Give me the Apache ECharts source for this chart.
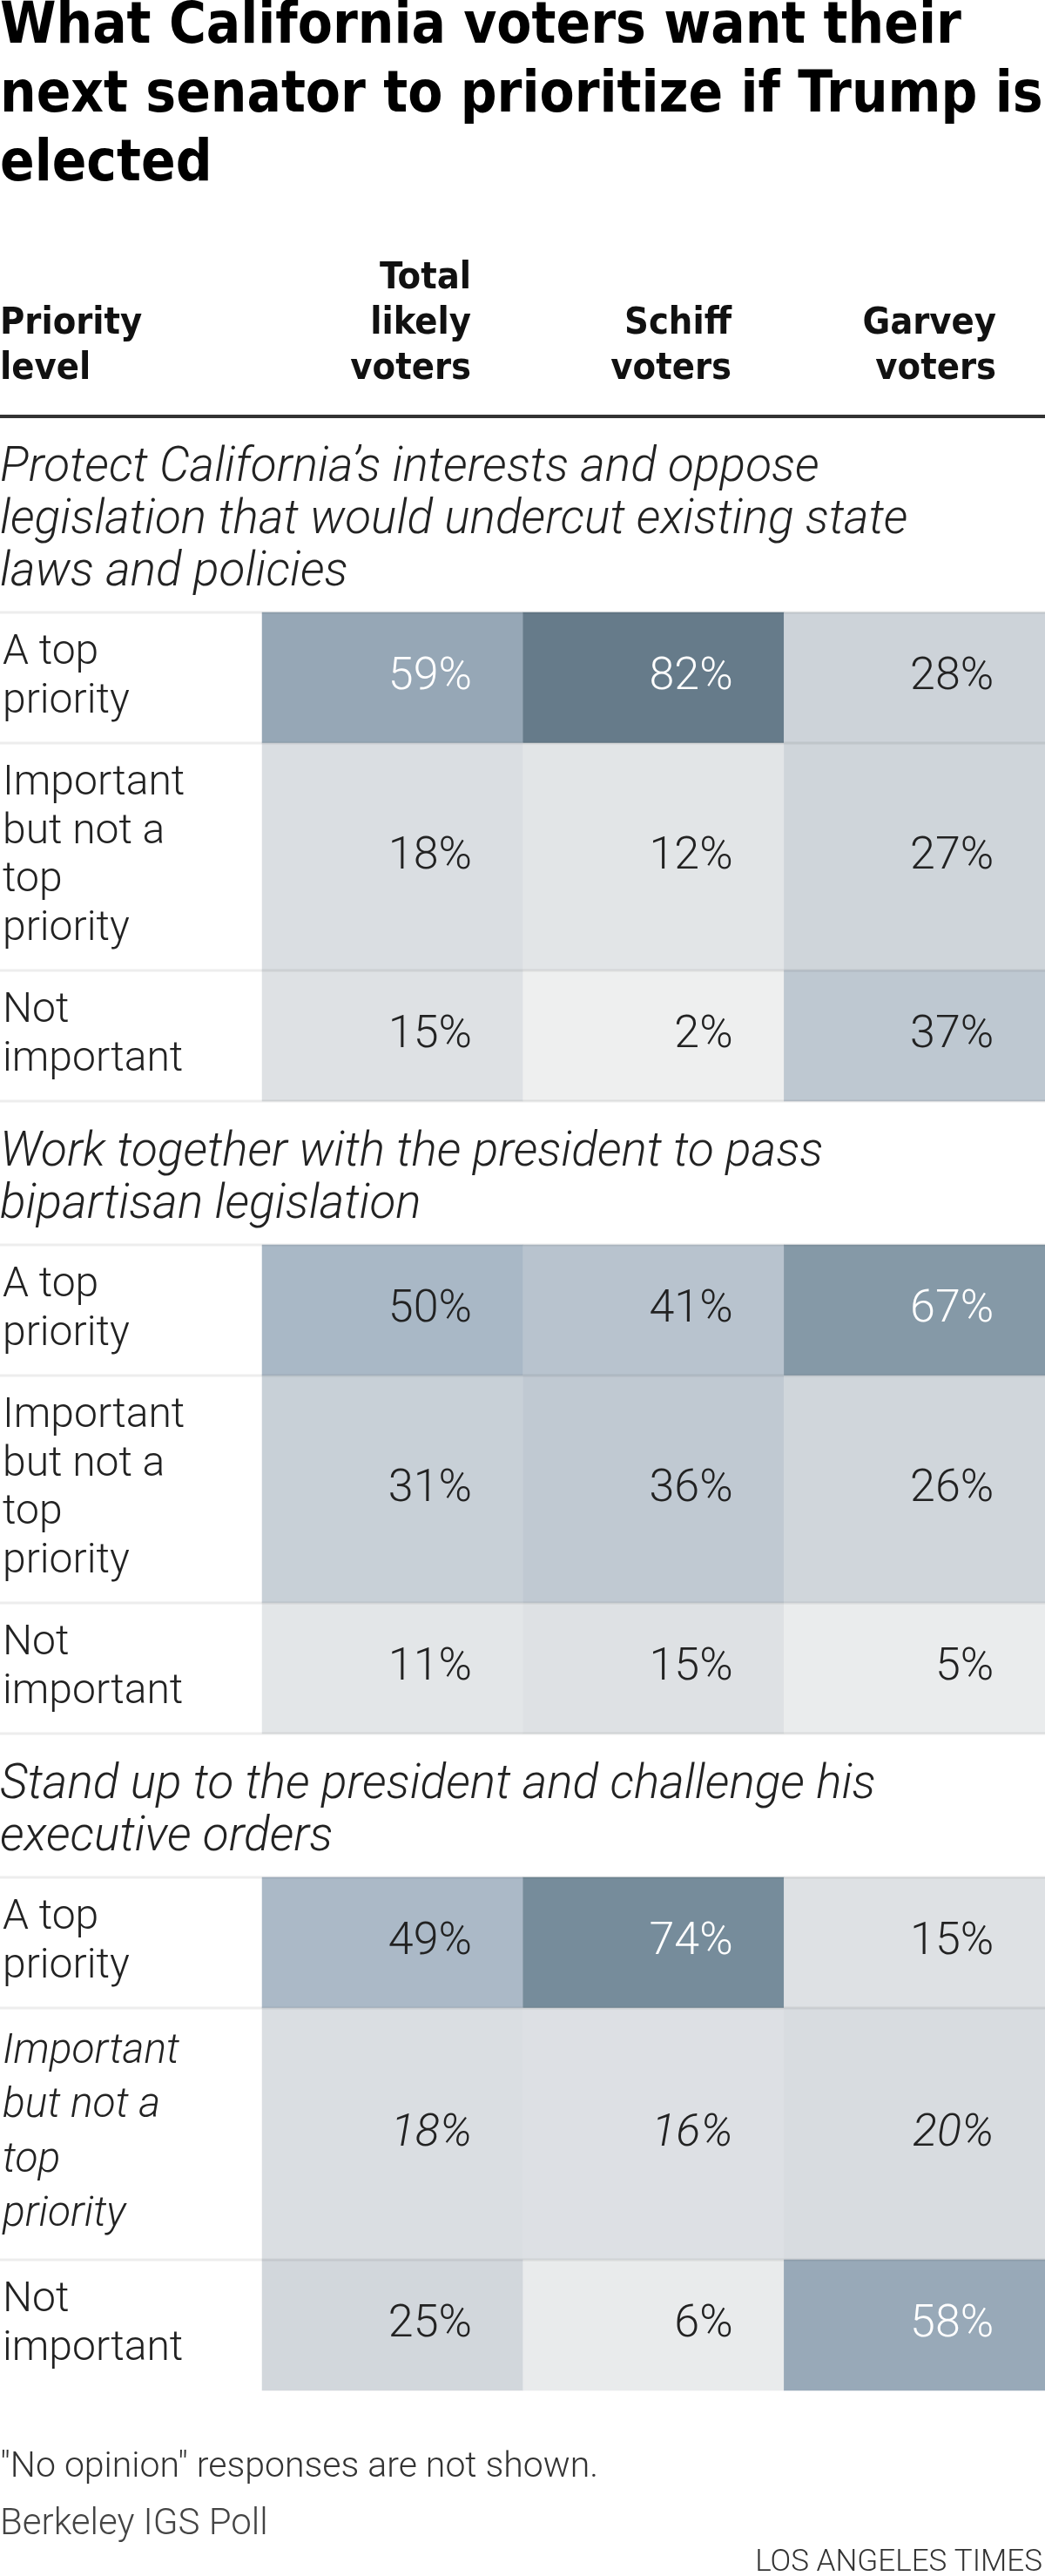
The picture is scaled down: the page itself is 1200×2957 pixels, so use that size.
<!DOCTYPE html>
<html>
<head>
<meta charset="utf-8">
<script src="https://cdn.jsdelivr.net/npm/echarts@6/dist/echarts.min.js"></script>
<style>
  html, body { margin: 0; padding: 0; background: #fff; }
  #main { width: 1200px; height: 2957px; }
</style>
</head>
<body>
<div id="main"></div>
<script>
// data
var columns = ['Total likely voters', 'Schiff voters', 'Garvey voters'];
var levelLabels = ['A top\npriority', 'Important\nbut not a\ntop\npriority', 'Not\nimportant'];
var questions = [
    'Protect California\u2019s interests and oppose\nlegislation that would undercut existing state\nlaws and policies',
    'Work together with the president to pass\nbipartisan legislation',
    'Stand up to the president and challenge his\nexecutive orders'
];
var protectCalifornia = [[59, 82, 28], [18, 12, 27], [15, 2, 37]];
var workTogether = [[50, 41, 67], [31, 36, 26], [11, 15, 5]];
var standUp = [[49, 74, 15], [18, 16, 20], [25, 6, 58]];
var sectionValues = [protectCalifornia, workTogether, standUp];

var BODY = 'Roboto, "Liberation Sans", sans-serif';
var COND = '"Liberation Sans Narrow", "DejaVu Sans Condensed", Roboto, sans-serif';

var chart = echarts.init(document.getElementById('main'));

function sepLine(y) {
    return {
        type: 'rect', z: 100,
        shape: { x: 0, y: y - 1.5, width: 1200, height: 3 },
        style: { fill: 'rgba(0,0,0,0.07)' }
    };
}

var grids = [], xAxes = [], yAxes = [], series = [];
var graphics = [
    { type: 'text', style: { text: 'What California voters want their\nnext senator to prioritize if Trump is\nelected',
        x: 0, y: -7, verticalAlign: 'top', lineHeight: 79, font: 'bold 65px ' + COND, fill: '#000' } },
    { type: 'text', style: { text: 'Priority\nlevel', x: 0, y: 450, align: 'left', verticalAlign: 'bottom',
        lineHeight: 52, font: 'bold 43px ' + COND, fill: '#111' } },
    { type: 'text', style: { text: 'Total\nlikely\nvoters', x: 541, y: 450, align: 'right', verticalAlign: 'bottom',
        lineHeight: 52, font: 'bold 43px ' + COND, fill: '#111' } },
    { type: 'text', style: { text: 'Schiff\nvoters', x: 840, y: 450, align: 'right', verticalAlign: 'bottom',
        lineHeight: 52, font: 'bold 43px ' + COND, fill: '#111' } },
    { type: 'text', style: { text: 'Garvey\nvoters', x: 1144, y: 450, align: 'right', verticalAlign: 'bottom',
        lineHeight: 52, font: 'bold 43px ' + COND, fill: '#111' } },
    { type: 'rect', shape: { x: 0, y: 476, width: 1200, height: 4 }, style: { fill: '#333' } }
];

var y = 480;
sectionValues.forEach(function (rows, s) {
    y += s === 0 ? 22 : 24;
    graphics.push({ type: 'text', style: { text: questions[s], x: 0, y: y + 6, verticalAlign: 'top',
        lineHeight: 60, font: 'italic 300 55px ' + BODY, fill: '#222' } });
    y += questions[s].split('\n').length * 60 + 21;
    graphics.push(sepLine(y));

    rows.forEach(function (row, r) {
        var italic = (s === 2 && r === 1);
        var lh = italic ? 62.5 : 55.5;
        var h = levelLabels[r].split('\n').length * lh + 39;
        var gi = grids.length;
        grids.push({ left: 298, right: 0, top: y, height: h });
        xAxes.push({ type: 'category', gridIndex: gi, data: columns, show: false });
        yAxes.push({
            type: 'category', gridIndex: gi, data: [levelLabels[r]],
            axisLine: { show: false }, axisTick: { show: false }, splitLine: { show: false },
            axisLabel: {
                align: 'left', margin: 298, fontSize: 48, fontWeight: 300, fontFamily: BODY,
                fontStyle: italic ? 'italic' : 'normal', lineHeight: lh, color: '#222'
            }
        });
        var txt = { fontSize: 52, fontWeight: 300, fontFamily: BODY };
        series.push({
            type: 'heatmap', xAxisIndex: gi, yAxisIndex: gi,
            data: row.map(function (v, c) { return [c, 0, v]; }),
            itemStyle: { borderWidth: 0 },
            emphasis: { disabled: true },
            label: {
                show: true, position: 'insideRight', distance: 59,
                formatter: function (p) {
                    var v = p.data[2];
                    var key = (v >= 55 ? 'w' : 'd') + (italic ? 'i' : '');
                    return '{' + key + '|' + v + '%}';
                },
                rich: {
                    w: Object.assign({ color: '#fff' }, txt),
                    d: Object.assign({ color: '#222' }, txt),
                    wi: Object.assign({ color: '#fff', fontStyle: 'italic' }, txt),
                    di: Object.assign({ color: '#222', fontStyle: 'italic' }, txt)
                }
            }
        });
        y += h;
        if (!(s === 2 && r === 2)) graphics.push(sepLine(y));
    });
});

graphics.push(
    { type: 'text', style: { text: '"No opinion" responses are not shown.', x: 0, y: 2833, verticalAlign: 'middle',
        font: '300 41px ' + BODY, fill: '#333' } },
    { type: 'text', style: { text: 'Berkeley IGS Poll', x: 0, y: 2898, verticalAlign: 'middle',
        font: '300 42px ' + BODY, fill: '#444' } },
    { type: 'text', style: { text: 'LOS ANGELES TIMES', x: 1197, y: 2942, align: 'right', verticalAlign: 'middle',
        font: '300 35px ' + BODY, fill: '#333' } }
);

var option = {
    animation: false,
    backgroundColor: '#fff',
    grid: grids,
    xAxis: xAxes,
    yAxis: yAxes,
    visualMap: {
        type: 'continuous', show: false, min: 0, max: 100, dimension: 2,
        seriesIndex: series.map(function (_, i) { return i; }),
        inRange: { color: ['#f0f1f1', '#d2d7dc', '#a9b8c6', '#748a99', '#425463'] }
    },
    graphic: graphics,
    series: series
};

chart.setOption(option);
</script>
</body>
</html>
